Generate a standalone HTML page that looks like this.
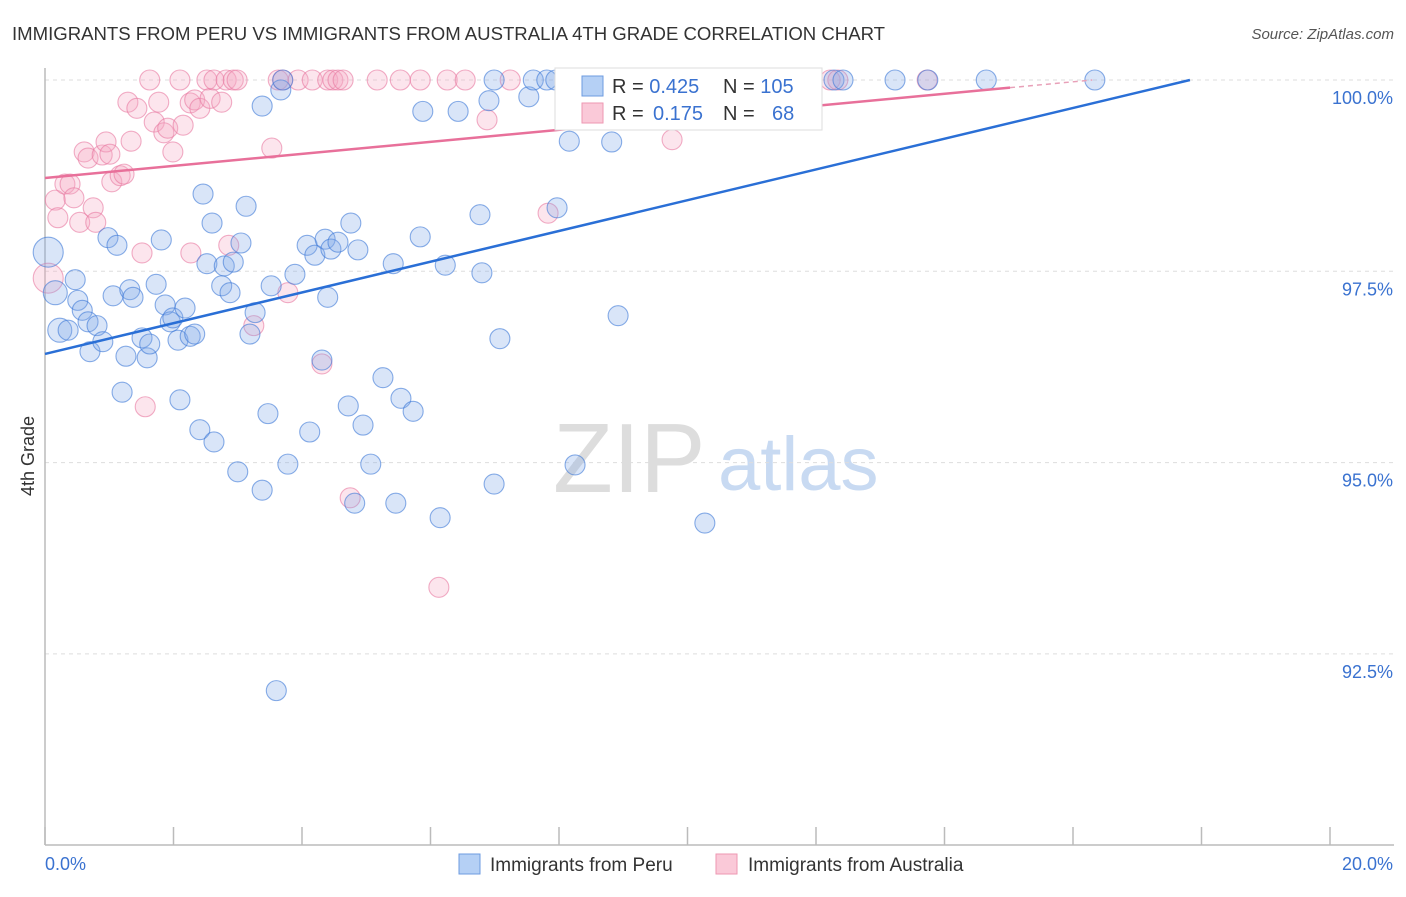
<!DOCTYPE html>
<html><head><meta charset="utf-8"><style>
body{margin:0;background:#fff;font-family:"Liberation Sans",sans-serif;}
svg text{font-family:"Liberation Sans",sans-serif;}
</style></head><body>
<svg id="chart" width="1406" height="892" xmlns="http://www.w3.org/2000/svg">
<text x="12" y="40" font-size="18.6" fill="#333" textLength="873">IMMIGRANTS FROM PERU VS IMMIGRANTS FROM AUSTRALIA 4TH GRADE CORRELATION CHART</text>
<text x="1394" y="39" font-size="15" fill="#555" font-style="italic" text-anchor="end">Source: ZipAtlas.com</text>
<g>
<text x="553" y="492" font-size="98" fill="#ddd" font-family="Liberation Serif, serif">ZIP</text>
<text x="718" y="490" font-size="76" fill="#c8daf2">atlas</text>
</g>
<g id="grid"></g>
<g id="axes"></g>
<g id="pts"></g>
<g id="trends"></g>
<text transform="translate(34,456) rotate(-90)" font-size="18" fill="#333" text-anchor="middle">4th Grade</text>
<g>
<rect x="555" y="68" width="267" height="62" fill="#fff" stroke="#ddd"/>
<rect x="582" y="76" width="21" height="20" fill="#b5d0f5" stroke="#6d9be0"/>
<rect x="582" y="103" width="21" height="20" fill="#fac9d8" stroke="#ee97b2"/>
<text x="612" y="93" font-size="20" fill="#333">R = <tspan fill="#3a72d0">0.425</tspan><tspan x="723">N = </tspan><tspan fill="#3a72d0">105</tspan></text>
<text x="612" y="120" font-size="20" fill="#333">R = <tspan fill="#3a72d0" x="653">0.175</tspan><tspan x="723">N = </tspan><tspan fill="#3a72d0" x="772">68</tspan></text>
</g>
<g>
<rect x="459" y="854" width="21" height="20" fill="#b5d0f5" stroke="#6d9be0"/>
<text x="490" y="871" font-size="19" fill="#333">Immigrants from Peru</text>
<rect x="716" y="854" width="21" height="20" fill="#fac9d8" stroke="#ee97b2"/>
<text x="748" y="871" font-size="19" fill="#333">Immigrants from Australia</text>
</g>
</svg>
<script>
const peruX=[0.05,0.16,0.23,0.36,0.47,0.51,0.58,0.67,0.81,0.70,0.90,0.98,1.12,1.06,1.20,1.26,1.32,1.37,1.51,1.59,1.63,1.73,1.81,1.87,1.95,1.99,2.07,2.10,2.18,2.26,2.33,2.41,2.46,2.52,2.60,2.63,2.75,2.79,2.88,2.93,3.00,3.05,3.13,3.19,3.27,3.38,3.38,3.47,3.52,3.60,3.67,3.78,3.89,4.08,4.12,4.20,4.31,4.36,4.40,4.45,4.56,4.72,4.76,4.82,4.87,4.95,5.07,5.26,5.42,5.46,5.54,5.73,5.84,5.88,6.15,6.23,6.43,6.77,6.80,6.91,6.99,7.08,7.53,7.60,7.81,7.97,8.16,8.25,8.82,8.92,9.53,10.27,11.33,12.28,12.42,13.23,13.74,14.65,16.34,6.99,3.70,7.95];
const peruY=[97.75,97.22,96.73,96.73,97.39,97.12,96.99,96.84,96.79,96.45,96.58,97.94,97.84,97.18,95.92,96.39,97.26,97.16,96.63,96.37,96.55,97.33,97.91,97.06,96.84,96.89,96.60,95.82,97.02,96.65,96.68,95.43,98.51,97.60,98.13,95.27,97.31,97.57,97.22,97.62,94.88,97.87,98.35,96.68,96.96,94.64,99.66,95.64,97.31,92.02,99.87,94.98,97.46,97.84,95.40,97.71,96.34,97.92,97.16,97.79,97.88,95.74,98.13,94.47,97.78,95.49,94.98,96.11,97.60,94.47,95.84,95.67,97.95,99.59,94.28,97.58,99.59,98.24,97.48,99.73,94.72,96.62,99.78,100,100,98.33,99.20,94.97,99.19,96.92,100,94.21,100,100,100,100,100,100,100,100,100,100];
const ausX=[0.05,0.16,0.20,0.31,0.39,0.45,0.54,0.61,0.67,0.75,0.79,0.89,0.95,1.01,1.04,1.17,1.23,1.29,1.34,1.43,1.51,1.56,1.63,1.70,1.77,1.85,1.91,1.99,2.10,2.15,2.26,2.27,2.33,2.41,2.52,2.57,2.63,2.75,2.82,2.86,2.93,2.99,3.25,3.53,3.63,3.70,3.78,3.94,4.16,4.31,4.40,4.48,4.56,4.64,4.75,5.17,5.53,5.84,6.13,6.26,6.54,6.88,7.24,7.83,9.76,12.22,12.34,13.73];
const ausY=[97.41,98.43,98.20,98.64,98.64,98.46,98.14,99.06,98.98,98.33,98.14,99.02,99.19,99.03,98.67,98.75,98.77,99.71,99.20,99.63,97.74,95.73,100,99.45,99.71,99.31,99.37,99.06,100,99.41,99.70,97.74,99.74,99.63,100,99.76,100,99.71,100,97.84,100,100,96.79,99.11,100,100,97.22,100,100,96.29,100,100,100,100,94.54,100,100,100,93.37,100,100,99.48,100,98.26,99.22,100,100,100];
const peruTrend=[[0,96.42],[17.82,100]];
const ausTrend=[[0,98.72],[15.02,99.90],[16.3,100]];
const yTicks=[100,97.5,95,92.5];
const yTickLabels=["100.0%","97.5%","95.0%","92.5%"];
const xTicks=[0,2,4,6,8,10,12,14,16,18,20];
const NS="http://www.w3.org/2000/svg";
const xs=v=>45+v*64.25;
const ys=v=>80+(100-v)*76.52;
function mk(tag,attrs,parent){const e=document.createElementNS(NS,tag);for(const k in attrs)e.setAttribute(k,attrs[k]);parent.appendChild(e);return e;}
const grid=document.getElementById('grid'),axes=document.getElementById('axes'),pts=document.getElementById('pts'),tr=document.getElementById('trends');
yTicks.forEach((t,i)=>{
 const l=mk('line',{x1:45,x2:1394,y1:ys(t),y2:ys(t),stroke:'#ddd','stroke-dasharray':'4,4'},grid);
 
 
 const tx=mk('text',{x:1393,y:ys(t)+24,'font-size':18,fill:'#3a72d0','text-anchor':'end'},axes);
 tx.textContent=yTickLabels[i];
 
 
});
mk('line',{x1:45,x2:45,y1:68,y2:845,stroke:'#bbb','stroke-width':1.5},axes);
mk('line',{x1:45,x2:1394,y1:845,y2:845,stroke:'#bbb','stroke-width':1.5},axes);
xTicks.forEach(t=>{
 const l=mk('line',{x1:xs(t),x2:xs(t),y1:827,y2:845,stroke:'#bbb','stroke-width':1.5},axes);
 
 
});
const x0=mk('text',{x:45,y:870,'font-size':18,fill:'#3a72d0'},axes);x0.textContent='0.0%';


const x1=mk('text',{x:1393,y:870,'font-size':18,fill:'#3a72d0','text-anchor':'end'},axes);x1.textContent='20.0%';


function dots(X,Y,fill,stroke,name,bigCount){
 X.forEach((x,i)=>{
  const r=i<bigCount?(i===0?15:12):10;
  const c=mk('circle',{cx:xs(x),cy:ys(Y[i]),r:r,fill:fill,stroke:stroke,'stroke-width':1.1},pts);
  
  
 });
}
dots(ausX,ausY,'rgba(246,170,196,0.3)','rgba(232,120,160,0.6)','point-australia',1);
dots(peruX,peruY,'rgba(130,170,232,0.3)','rgba(60,120,215,0.6)','point-peru',3);
const pl=mk('line',{x1:xs(peruTrend[0][0]),y1:ys(peruTrend[0][1]),x2:xs(peruTrend[1][0]),y2:ys(peruTrend[1][1]),stroke:'#2a6fd6','stroke-width':2.5},tr);


const al=mk('line',{x1:xs(ausTrend[0][0]),y1:ys(ausTrend[0][1]),x2:xs(ausTrend[1][0]),y2:ys(ausTrend[1][1]),stroke:'#e8709a','stroke-width':2.5},tr);


const ad=mk('line',{x1:xs(ausTrend[1][0]),y1:ys(ausTrend[1][1]),x2:xs(ausTrend[2][0]),y2:ys(ausTrend[2][1]),stroke:'#e8a0b8','stroke-width':1.5,'stroke-dasharray':'5,4'},tr);


</script>
</body></html>
